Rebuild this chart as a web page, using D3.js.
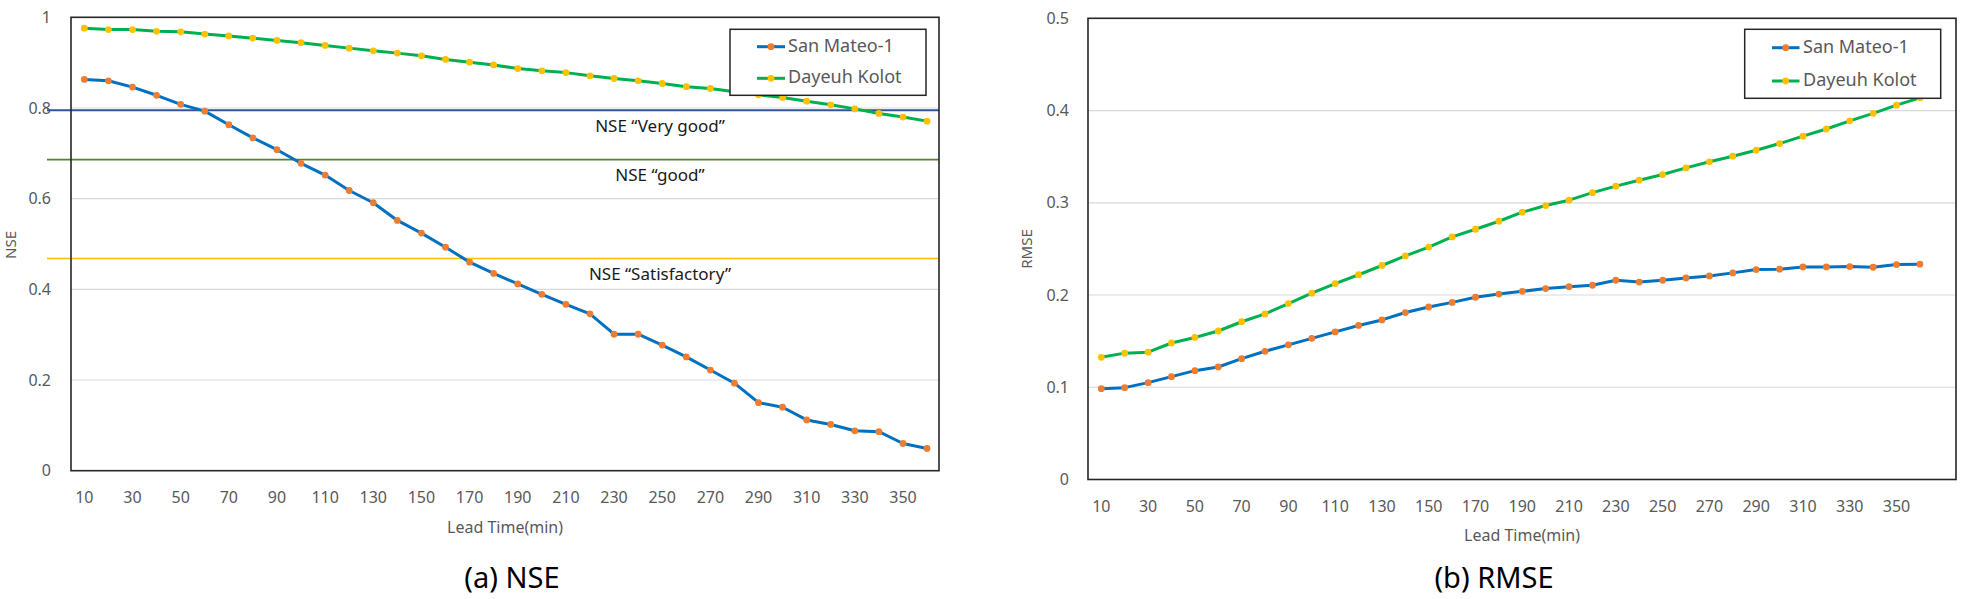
<!DOCTYPE html>
<html>
<head>
<meta charset="utf-8">
<script src="https://cdn.jsdelivr.net/npm/d3@7"></script>
<style>
  html, body { margin: 0; padding: 0; background: #fff; }
  svg { display: block; font-family: "Noto Sans", "Open Sans", sans-serif; }
</style>
</head>
<body>
<svg id="chart" width="1972" height="599"></svg>
<script>
// ---------------- DATA ----------------
const categories = [10,20,30,40,50,60,70,80,90,100,110,120,130,140,150,160,170,180,
  190,200,210,220,230,240,250,260,270,280,290,300,310,320,330,340,350,360];
const xTickLabels = [10,30,50,70,90,110,130,150,170,190,210,230,250,270,290,310,330,350];
const seriesNames = ["San Mateo-1", "Dayeuh Kolot"];

const nseSanMateo = [0.863,0.860,0.846,0.828,0.808,0.793,0.763,0.734,0.708,0.678,0.652,0.618,
  0.591,0.552,0.524,0.493,0.460,0.435,0.412,0.389,0.367,0.346,0.301,0.301,0.277,0.251,0.222,0.193,
  0.150,0.140,0.112,0.102,0.088,0.086,0.060,0.049];
const nseDayeuh = [0.976,0.973,0.973,0.969,0.968,0.963,0.959,0.954,0.949,0.944,0.938,0.932,
  0.926,0.921,0.915,0.907,0.901,0.895,0.887,0.882,0.878,0.871,0.865,0.860,0.854,0.847,0.843,0.836,
  0.829,0.823,0.815,0.807,0.798,0.788,0.780,0.771];

const rmseSanMateo = [0.0985,0.0996,0.105,0.1115,0.118,0.122,0.131,0.139,0.146,0.153,0.160,0.167,
  0.173,0.181,0.187,0.192,0.1976,0.201,0.204,0.207,0.209,0.2106,0.216,0.214,0.216,0.2185,0.2207,0.224,
  0.2276,0.228,0.2305,0.2305,0.2308,0.2301,0.233,0.2334];
const rmseDayeuh = [0.1325,0.137,0.138,0.148,0.154,0.161,0.171,0.1795,0.1907,0.202,0.2124,0.222,
  0.232,0.2424,0.252,0.263,0.2713,0.280,0.2898,0.297,0.3028,0.311,0.318,0.3245,0.3306,0.3378,0.3444,0.3505,
  0.357,0.3642,0.3722,0.380,0.3888,0.397,0.4058,0.4138];

const nseTicks = [0,0.2,0.4,0.6,0.8,1];
const rmseTicks = [0,0.1,0.2,0.3,0.4,0.5];
const nseThresholdValues = [0.795, 0.686, 0.468];
const nseThresholdLabels = ["NSE \u201CVery good\u201D", "NSE \u201Cgood\u201D", "NSE \u201CSatisfactory\u201D"];

// ---------------- STYLE / LAYOUT ----------------
const lineColors = ["#0070C0", "#00B050"];
const markerColors = ["#ED7D31", "#FFC000"];
const thresholdColors = ["#2F5597", "#548235", "#FFC000"];
const thresholdWidths = [2, 1.8, 1.5];
const textGrey = "#595959";

const svg = d3.select("#chart");

function drawPanel(cfg) {
  const g = svg.append("g");
  const x = d3.scaleBand().domain(categories).range(cfg.xRange);
  const y = d3.scaleLinear().domain(cfg.yDomain).range([cfg.bottom, cfg.top]);

  // gridlines
  g.append("g").selectAll("line").data(cfg.ticks.slice(1, -1)).join("line")
    .attr("x1", cfg.left).attr("x2", cfg.right)
    .attr("y1", d => y(d)).attr("y2", d => y(d))
    .attr("stroke", "#D9D9D9").attr("stroke-width", 1.2);

  // y axis labels
  const yAxis = d3.axisLeft(y).tickValues(cfg.ticks).tickSize(0).tickPadding(0)
    .tickFormat(d => d3.format("~g")(d));
  const ya = g.append("g").attr("transform", `translate(${cfg.yLabelX},0)`).call(yAxis);
  ya.select(".domain").remove();
  ya.selectAll("text").attr("fill", textGrey).style("font-size", "16px")
    .style("font-family", "'Noto Sans', sans-serif");

  // x axis labels
  const xAxis = d3.axisBottom(x).tickValues(xTickLabels).tickSize(0).tickPadding(0);
  const xa = g.append("g").attr("transform", `translate(0,${cfg.xLabelY})`).call(xAxis);
  xa.select(".domain").remove();
  xa.selectAll("text").attr("fill", textGrey).style("font-size", "16px")
    .attr("dy", "0.32em").style("font-family", "'Noto Sans', sans-serif");

  // thresholds
  if (cfg.thresholds) {
    const th = g.append("g");
    th.selectAll("line").data(cfg.thresholds).join("line")
      .attr("x1", cfg.thresholdX1).attr("x2", cfg.right)
      .attr("y1", d => y(d.v)).attr("y2", d => y(d.v))
      .attr("stroke", (d, i) => thresholdColors[i])
      .attr("stroke-width", (d, i) => thresholdWidths[i]);
    th.selectAll("text").data(cfg.thresholds).join("text")
      .attr("x", cfg.thresholdLabelX).attr("y", d => y(d.v) + 17)
      .attr("text-anchor", "middle").attr("dominant-baseline", "middle")
      .attr("fill", "#1a1a1a").style("font-size", "17px")
      .text(d => d.label);
  }

  // series
  const line = d3.line().x((d, i) => x(categories[i]) + x.bandwidth() / 2).y(d => y(d));
  cfg.series.forEach((vals, s) => {
    g.append("path").datum(vals).attr("d", line)
      .attr("fill", "none").attr("stroke", lineColors[s]).attr("stroke-width", 3)
      .attr("stroke-linejoin", "round");
    g.append("g").selectAll("circle").data(vals).join("circle")
      .attr("cx", (d, i) => x(categories[i]) + x.bandwidth() / 2)
      .attr("cy", d => y(d)).attr("r", 3.4).attr("fill", markerColors[s]);
  });

  // frame
  g.append("rect").attr("x", cfg.left).attr("y", cfg.top)
    .attr("width", cfg.right - cfg.left).attr("height", cfg.bottom - cfg.top)
    .attr("fill", "none").attr("stroke", "#262626").attr("stroke-width", 1.6);

  // axis titles
  g.append("text").attr("transform", `translate(${cfg.yTitleX},${cfg.yTitleY}) rotate(-90)`)
    .attr("text-anchor", "middle").attr("dominant-baseline", "middle")
    .attr("fill", textGrey).style("font-size", "15px").text(cfg.yTitle);
  g.append("text").attr("x", (cfg.left + cfg.right) / 2).attr("y", cfg.xTitleY)
    .attr("text-anchor", "middle").attr("dominant-baseline", "middle")
    .attr("fill", textGrey).style("font-size", "16px").text("Lead Time(min)");
  g.append("text").attr("x", cfg.captionX).attr("y", cfg.captionY)
    .attr("text-anchor", "middle").attr("dominant-baseline", "middle")
    .attr("fill", "#000").style("font-size", "29px").text(cfg.caption);

  // legend
  const L = cfg.legend;
  const lg = g.append("g");
  lg.append("rect").attr("x", L.x).attr("y", L.y).attr("width", L.w).attr("height", L.h)
    .attr("fill", "#fff").attr("stroke", "#262626").attr("stroke-width", 1.5);
  seriesNames.forEach((name, s) => {
    const yy = L.rows[s];
    lg.append("line").attr("x1", L.lx1).attr("x2", L.lx2).attr("y1", yy).attr("y2", yy)
      .attr("stroke", lineColors[s]).attr("stroke-width", 3);
    lg.append("circle").attr("cx", (L.lx1 + L.lx2) / 2).attr("cy", yy).attr("r", 3.4)
      .attr("fill", markerColors[s]);
    lg.append("text").attr("x", L.tx).attr("y", yy).attr("dominant-baseline", "middle")
      .attr("fill", textGrey).style("font-size", "18px").text(name);
  });
}

drawPanel({
  left: 71, right: 939, top: 17.3, bottom: 470.7,
  xRange: [72.3, 939.1], yDomain: [0, 1], ticks: nseTicks,
  yLabelX: 51, xLabelY: 498,
  series: [nseSanMateo, nseDayeuh],
  thresholds: nseThresholdValues.map((v, i) => ({ v, label: nseThresholdLabels[i] })),
  thresholdX1: 47, thresholdLabelX: 660,
  yTitle: "NSE", yTitleX: 12, yTitleY: 245,
  xTitleY: 529, caption: "(a) NSE", captionX: 512, captionY: 580,
  legend: { x: 730, y: 29.3, w: 196, h: 66, rows: [46.7, 78.3], lx1: 757, lx2: 785, tx: 788 }
});

drawPanel({
  left: 1088, right: 1956, top: 18.3, bottom: 479.5,
  xRange: [1089.6, 1931.6], yDomain: [0, 0.5], ticks: rmseTicks,
  yLabelX: 1069, xLabelY: 506.7,
  series: [rmseSanMateo, rmseDayeuh],
  thresholds: null,
  yTitle: "RMSE", yTitleX: 1028, yTitleY: 249,
  xTitleY: 537, caption: "(b) RMSE", captionX: 1494, captionY: 580,
  legend: { x: 1744.7, y: 29.3, w: 196, h: 69, rows: [47.7, 81], lx1: 1772, lx2: 1799.5, tx: 1803 }
});
</script>
</body>
</html>
